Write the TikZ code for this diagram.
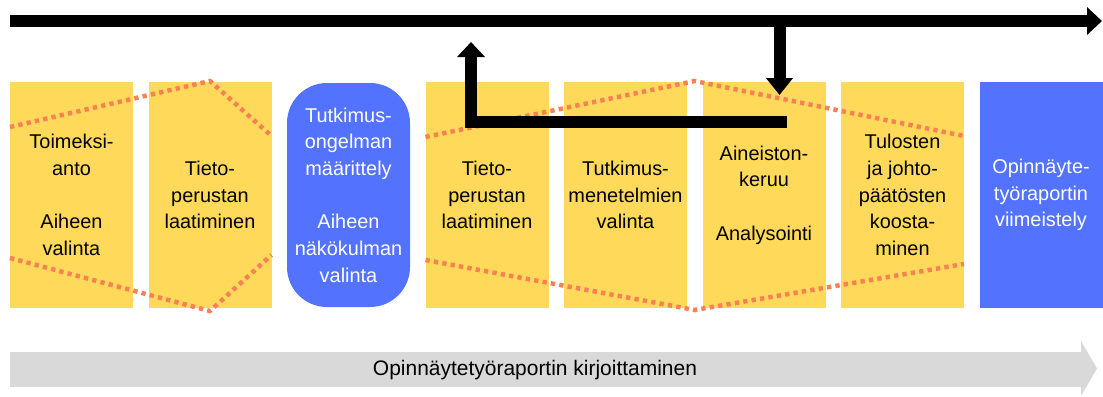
\documentclass[tikz,border=0pt]{standalone}
\usepackage{fontspec}
\setmainfont{Liberation Sans}
\usepackage{tikz}
\usetikzlibrary{arrows.meta,calc,positioning,shapes}

\definecolor{boxyellow}{RGB}{255,217,90}
\definecolor{boxblue}{RGB}{83,115,255}
\definecolor{dotorange}{RGB}{250,128,85}
\definecolor{bargray}{RGB}{217,217,217}

\begin{document}
\begin{tikzpicture}[auto,>={Triangle[width=0.81cm,length=0.45cm]}]
	\tikzstyle{block} = [fill=boxyellow, rectangle, inner sep=0pt, outer sep=0pt, minimum height=6.78cm, minimum width=3.69cm, align=center, font=\fontsize{17}{22.8}\selectfont]
	\tikzstyle{blueblock} = [block, fill=boxblue, text=white]
	\tikzstyle{dots} = [draw=dotorange, line width=0.135cm, dash pattern=on 0.13cm off 0.125cm]
	\tikzstyle{flow} = [line width=0.36cm]
	
	\useasboundingbox (0,0) rectangle (33.09,-11.88);
	
	% phases
	\node [block] (b1) at (2.145,-5.85) {Toimeksi-\\anto\\[0.8cm]Aiheen\\valinta};
	\node [block, right = 0.465cm of b1] (b2) {Tieto-\\perustan\\laatiminen};
	\node [blueblock, rounded corners=1.2cm, minimum height=6.72cm, right = 0.465cm of b2] (b3) {Tutkimus-\\ongelman\\määrittely\\[0.8cm]Aiheen\\näkökulman\\valinta};
	\node [block, right = 0.465cm of b3] (b4) {Tieto-\\perustan\\laatiminen};
	\node [block, right = 0.465cm of b4] (b5) {Tutkimus-\\menetelmien\\valinta};
	\node [block, right = 0.465cm of b5] (b6) {Aineiston-\\keruu\\[0.8cm]Analysointi};
	\node [block, right = 0.465cm of b6] (b7) {Tulosten\\ja johto-\\päätösten\\koosta-\\minen};
	\node [blueblock, right = 0.465cm of b7] (b8) {Opinnäyte-\\työraportin\\viimeistely};
	
	% dotted outlines
	\node [coordinate, below = 1.35cm of b1.north west] (d1a){};
	\node [coordinate, above = 0.03cm of b2.north] (d1b){};
	\node [coordinate, below = 1.62cm of b2.north east] (d1c){};
	\node [coordinate, above = 1.5cm of b1.south west] (d1d){};
	\node [coordinate, below = 0.09cm of b2.south] (d1e){};
	\node [coordinate, above = 1.59cm of b2.south east] (d1f){};
	
	\node [coordinate, below = 1.65cm of b4.north west] (d2a){};
	\node [coordinate] (d2b) at ($(b5.north east)!0.5!(b6.north west)+(0,0.03)$) {};
	\node [coordinate, below = 1.62cm of b7.north east] (d2c){};
	\node [coordinate, above = 1.44cm of b4.south west] (d2d){};
	\node [coordinate] (d2e) at ($(b5.south east)!0.5!(b6.south west)+(0,-0.06)$) {};
	\node [coordinate, above = 1.32cm of b7.south east] (d2f){};
	
	\draw [dots] (d1a) -- (d1b) -- (d1c);
	\draw [dots] (d1d) -- (d1e) -- (d1f);
	\draw [dots] (d2a) -- (d2b) -- (d2c);
	\draw [dots] (d2d) -- (d2e) -- (d2f);
	
	% time line and loop
	\node [coordinate] (start) at (0.3,-0.63) {};
	\node [coordinate] (end) at (33.06,-0.63) {};
	\node [coordinate] (m1) at (23.385,-0.63) {};
	\node [coordinate, below = 2.22cm of m1] (m2) {};
	\node [coordinate] (r1) at (23.61,-3.645) {};
	\node [coordinate, left = 9.48cm of r1] (r2) {};
	\node [coordinate, above = 2.385cm of r2] (r3) {};
	
	\draw [->, flow] (start) -- (end);
	\draw [-{Triangle[width=0.78cm,length=0.51cm]}, flow] (m1) -- (m2);
	\draw [->, flow] (r1) -- (r2) -- (r3);
	
	% writing
	\fill [bargray] (0.3,-10.56) -- (32.43,-10.56) -- (32.43,-10.23) -- (32.91,-11.055) -- (32.43,-11.88) -- (32.43,-11.61) -- (0.3,-11.61) -- cycle;
	\node [font=\fontsize{17.9}{21}\selectfont] (writing) at (16.05,-11.1) {Opinnäytetyöraportin kirjoittaminen};
	
\end{tikzpicture}
\end{document}
